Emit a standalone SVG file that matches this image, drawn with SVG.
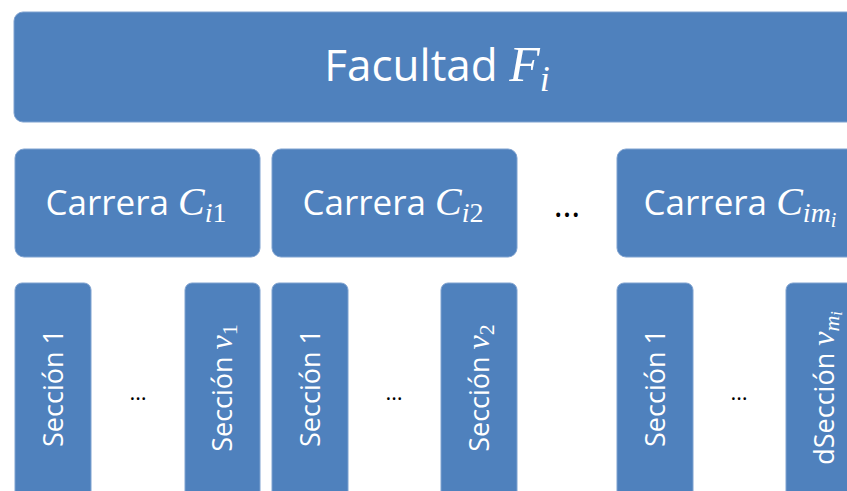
<svg xmlns="http://www.w3.org/2000/svg" width="847" height="491" viewBox="0 0 847 491">
<style>
.box{fill:#4F81BD;stroke:#7FA2D0;stroke-width:1}
.t{font-family:"Open Sans","Liberation Sans",sans-serif;fill:#FFFFFF}
.m{font-family:"Liberation Serif","DejaVu Serif",serif;font-style:italic}
.n{font-family:"Liberation Serif","DejaVu Serif",serif;font-style:normal}
.dots{font-family:"Open Sans","Liberation Sans",sans-serif;fill:#000000;text-anchor:middle}
</style>
<rect width="847" height="491" fill="#FFFFFF"/>
<g id="facultad">
<rect class="box" x="14" y="12" width="846" height="110" rx="9"/>
<text class="t" x="437" y="81" font-size="44" text-anchor="middle">Facultad <tspan class="m" font-size="50">F</tspan><tspan class="m" font-size="36" dy="10">i</tspan></text>
</g>
<g id="carrera1">
<rect class="box" x="15" y="149" width="245" height="108" rx="9"/>
<text class="t" x="136" y="215" font-size="35" text-anchor="middle">Carrera <tspan class="m" font-size="40">C</tspan><tspan class="m" font-size="28" dy="7">i</tspan><tspan class="n" font-size="28">1</tspan></text>
</g>
<g id="carrera2">
<rect class="box" x="272" y="149" width="245" height="108" rx="9"/>
<text class="t" x="393" y="215" font-size="35" text-anchor="middle">Carrera <tspan class="m" font-size="40">C</tspan><tspan class="m" font-size="28" dy="7">i</tspan><tspan class="n" font-size="28">2</tspan></text>
</g>
<g id="carrera3">
<rect class="box" x="617" y="149" width="245" height="108" rx="9"/>
<text class="t" x="740" y="215" font-size="35" text-anchor="middle">Carrera <tspan class="m" font-size="40">C</tspan><tspan class="m" font-size="28" dy="7">im</tspan><tspan class="m" font-size="20" dy="5">i</tspan></text>
</g>
<g id="seccion-1-1">
<rect class="box" x="15" y="283" width="76" height="220" rx="7"/>
<text class="t" font-size="27" text-anchor="middle" transform="translate(63,388) rotate(-90)">Sección 1</text>
</g>
<g id="seccion-1-v1">
<rect class="box" x="185" y="283" width="75" height="220" rx="7"/>
<text class="t" font-size="27" text-anchor="middle" transform="translate(232,388) rotate(-90)">Sección <tspan class="m" font-size="32">v</tspan><tspan class="n" font-size="22" dy="5">1</tspan></text>
</g>
<g id="seccion-2-1">
<rect class="box" x="272" y="283" width="76" height="220" rx="7"/>
<text class="t" font-size="27" text-anchor="middle" transform="translate(320,388) rotate(-90)">Sección 1</text>
</g>
<g id="seccion-2-v2">
<rect class="box" x="441" y="283" width="76" height="220" rx="7"/>
<text class="t" font-size="27" text-anchor="middle" transform="translate(489,388) rotate(-90)">Sección <tspan class="m" font-size="32">v</tspan><tspan class="n" font-size="22" dy="5">2</tspan></text>
</g>
<g id="seccion-3-1">
<rect class="box" x="617" y="283" width="76" height="220" rx="7"/>
<text class="t" font-size="27" text-anchor="middle" transform="translate(665,388) rotate(-90)">Sección 1</text>
</g>
<g id="seccion-3-vmi">
<rect class="box" x="786" y="283" width="76" height="220" rx="7"/>
<text class="t" font-size="27" text-anchor="middle" transform="translate(834,388) rotate(-90)">dSección <tspan class="m" font-size="32">v</tspan><tspan class="m" font-size="22" dy="5">m</tspan><tspan class="m" font-size="16" dy="3">i</tspan></text>
</g>
<g id="connectors"/>
<g id="ellipses">
<text class="dots" x="567" y="217" font-size="34">…</text>
<text class="dots" x="138" y="400" font-size="22">…</text>
<text class="dots" x="394" y="400" font-size="22">…</text>
<text class="dots" x="739" y="400" font-size="22">…</text>
</g>
</svg>
